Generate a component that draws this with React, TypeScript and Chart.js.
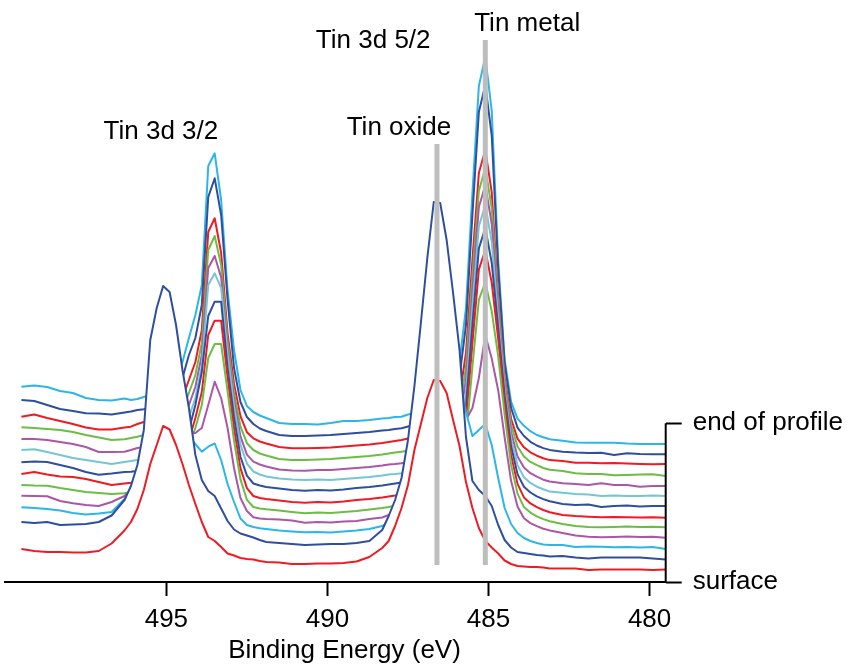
import React, { useEffect, useRef } from 'react';
import { Chart, registerables } from 'chart.js';

Chart.register(...registerables);

// Binding energies (eV) shared by all spectra
const energies = [
  499.5, 499.1, 498.7, 498.3, 497.9, 497.5, 497.1, 496.7, 496.3,
  496.1, 495.9, 495.7, 495.5, 495.3, 495.1, 494.9, 494.7, 494.5, 494.3, 494.1, 493.9, 493.7,
  493.5, 493.3, 493.1, 492.9, 492.7, 492.5, 492.3, 492.1, 491.9,
  491.5, 491.1, 490.7, 490.3, 489.9, 489.5, 489.1, 488.7, 488.3,
  488.1, 487.9, 487.7, 487.5, 487.3, 487.1, 486.9, 486.7, 486.5, 486.3, 486.1, 485.9, 485.7,
  485.5, 485.3, 485.1, 484.9, 484.7, 484.5, 484.3, 484.1, 483.9, 483.7, 483.5, 483.3, 483.1,
  482.7, 482.3, 481.9, 481.5, 481.1, 480.7, 480.3, 479.9, 479.5,
];

// Stacked intensities (arbitrary units), surface (s01) to end of profile (s13)
const s01 = [33, 31, 30, 30, 29.5, 29.5, 31, 38.5, 51.5,
  60, 73, 92, 118, 137, 156, 152.5, 137, 118, 97, 78, 60, 45, 41, 35, 28.5, 26.5, 24, 23, 22.5, 21, 20,
  19.5, 18, 18, 18.5, 18.5, 19, 20.5, 25, 34,
  41, 56, 74, 97, 132, 158, 184, 202, 201, 189, 162, 136, 100, 74, 54, 41, 34.5, 28.5, 21.5, 18, 16, 15.5, 15, 15, 14.5, 13.5,
  13.5, 13.5, 12, 12.5, 12.5, 12.5, 12.5, 12, 12.5];
const s02 = [60, 59, 60, 57, 57.5, 58, 60, 66.5, 82,
  96, 117, 152, 242, 274, 296, 290, 257, 212, 174, 127, 102, 91, 86, 73.5, 61, 52.5, 48.5, 46.5, 44.5, 42, 40,
  39, 38, 37, 37.5, 38, 38, 39, 41, 52,
  66, 82, 104, 142, 196, 259, 324, 380, 379, 342, 289, 232, 145, 101, 92, 86, 76, 57, 42, 34.5, 30, 29, 28, 27, 26.5, 25.5,
  26, 24.5, 23.5, 24.5, 24.5, 24.5, 24.5, 23.5, 22.5];
const s03 = [74.7, 74, 73, 71.5, 69, 67.5, 68.5, 70, 83,
  90, 97, 107, 117, 127, 134, 140, 144, 146, 145, 138, 130.3, 135.3, 138.5, 122, 98, 80, 63.5, 57, 55, 53.7, 53,
  51.5, 50.5, 49.7, 50, 49.5, 50.5, 51.5, 53, 56,
  60, 67, 77, 92, 112, 137, 162, 182, 192, 202, 207, 197, 170, 146, 152, 158, 137, 104, 74, 58, 49, 44, 41, 39, 37.5, 37,
  37, 35, 35.5, 35.3, 34.7, 35, 34.5, 35, 33];
const s04 = [86.3, 86, 85.7, 81, 78.7, 77, 76, 80, 86,
  92, 102, 112, 120, 127, 134, 139, 144, 147, 148, 149, 154, 177, 200.3, 184, 154, 114, 84, 71, 64.7, 63.5, 63,
  62.5, 61.5, 59.3, 60, 59.5, 60.5, 61, 63, 64.5,
  67, 70, 77, 87, 102, 117, 132, 142, 147, 150, 152, 154, 162, 174, 204, 247, 223.4, 191.8, 144.6, 101.2, 75.6, 63.8, 58.9, 55.9, 53.3, 51.6,
  49, 46.5, 45.3, 44.7, 45, 45.5, 45, 45.3, 44.3];
const s05 = [97, 96.5, 96.3, 94, 92, 90, 89, 88, 88.7,
  90, 92, 94, 96, 98, 100, 104, 110, 116, 137, 154, 177, 224, 238, 238, 190.6, 141.5, 102.6, 82.2, 75, 73.5, 72.7,
  71.5, 70, 68.7, 69.5, 69, 70, 71, 72.5, 74,
  75, 76.5, 79, 82, 86, 90, 94, 97, 100, 104, 108, 110.4, 143.9, 215.3, 282.2, 300, 270.6, 225.8, 167.5, 117.3, 88.4, 74.9, 69.4, 65.7, 62.9, 60.7,
  58, 56, 55, 54.7, 55, 55.5, 55, 55.3, 54.7];
const s06 = [108, 110, 107.5, 105.5, 105, 103, 100, 97, 98.5,
  99.3, 101, 102, 104, 106, 108, 112, 117, 124, 142, 164, 190, 247, 261.3, 261.3, 204.9, 153.9, 113.9, 93.9, 86, 84, 83,
  81.5, 80, 79.3, 80, 79.5, 80.5, 82, 83, 84.5,
  85.5, 86.5, 88, 90, 93, 97, 101, 105, 108, 112, 116, 123.7, 160.5, 238.9, 312.4, 332, 299.3, 243.3, 178.9, 127.1, 98.1, 84.6, 78.6, 74.9, 72, 69.8,
  67, 66, 65.3, 64.7, 65, 64.7, 64.5, 64.7, 64.3];
const s07 = [119.7, 120.5, 120, 117, 114, 110, 107.3, 108.5, 110,
  110.3, 111, 112, 113, 115, 117, 120, 125, 132, 152, 177, 210, 266, 280.3, 280.3, 214.2, 165, 125.3, 106.4, 98.5, 96.5, 95,
  93.5, 92, 91.3, 92, 91.5, 92.5, 94, 95, 96.5,
  97.5, 98.5, 99.5, 101, 104, 108, 112, 116, 120, 124, 129, 137.2, 175.5, 257.1, 333.6, 354, 319.1, 254.2, 186.3, 135.9, 107.9, 95.2, 89.5, 85.6, 82.9, 80.7,
  78, 77, 77.5, 75, 76, 76.5, 75.5, 76, 76];
const s08 = [132, 132.7, 130, 127, 124, 122, 120, 118, 120,
  121, 122, 124, 125, 127, 129, 132, 137, 145, 165, 184, 216, 297, 308.7, 294.2, 228.1, 176.4, 137.1, 118.5, 110.5, 107.5, 105.5,
  103.5, 102.5, 102, 102.5, 102, 103, 104, 105, 106.5,
  107.5, 108, 108.7, 110, 111.5, 113.5, 116.5, 119.5, 121.5, 122.5, 123.5, 149.2, 189.4, 275.2, 355.6, 377, 339.8, 264.4, 192.7, 143.4, 116.9, 104.8, 99.1, 95.3, 92.7, 90.4,
  89.3, 88, 87.5, 86, 86.5, 86, 86, 86.5, 86];
const s09 = [143, 143, 142, 140, 138, 135, 130, 130, 130.3,
  132, 134, 135, 136, 138, 141, 145, 151, 160, 177, 195, 227, 314, 326, 304.5, 233.7, 182.2, 145.7, 127.4, 120.3, 117.5, 115.5,
  112.5, 111.5, 111.3, 112, 112, 113, 114, 115, 116.5,
  117.5, 118, 118.7, 120, 121.5, 123.5, 126.5, 129.5, 131.5, 132.5, 133.5, 160.7, 202.4, 291.4, 374.8, 397, 358, 272.1, 197.3, 150, 125.5, 114.5, 108.8, 105.3, 102.3, 100.5,
  98.7, 98, 97, 98.7, 97, 97, 95.3, 96, 96];
const s10 = [154.7, 154, 153, 152, 150, 147, 144.5, 142, 142.7,
  144, 145.3, 147, 148, 150, 153, 157, 163, 172, 189, 207, 239, 332, 346, 316.9, 240.7, 189.2, 155.6, 138.8, 132, 128.5, 126.5,
  123, 122, 122, 122.5, 123, 124, 125, 126, 127.5,
  128.5, 129.5, 130.3, 131.5, 133, 135, 138, 141, 143, 144, 145, 172.6, 215, 306, 391, 414, 373.7, 278.6, 201.9, 157.4, 135.5, 125.5, 120.1, 116.8, 114, 112.2,
  111, 108.7, 108, 108, 106.7, 107, 107.5, 107.7, 106];
const s11 = [165.3, 167.5, 164, 161, 158, 154.5, 152.5, 152.5, 154.5,
  155.3, 158, 160, 161, 163, 166, 170, 176, 184, 202, 220, 252, 350, 363.7, 329.2, 248.7, 198.1, 165.9, 149.8, 143.7, 140.5, 138.5,
  135, 133.7, 133.7, 134, 134.5, 135.5, 136.5, 137.5, 139,
  140, 141, 142, 143.5, 145, 147, 150, 153, 155, 156, 157, 185.5, 229, 322, 409, 432, 389.7, 284.6, 205, 163.3, 143.4, 134.7, 129.7, 126.3, 123.8, 121.9,
  121, 119.3, 119.3, 118.7, 119, 118.5, 118, 117.7, 118];
const s12 = [182, 181, 177, 173, 171, 168.7, 168.5, 167.5, 169.5,
  170.5, 172, 172.7, 174, 177, 182, 187, 194, 204, 227, 244, 277, 385, 403.7, 367, 282, 214, 180, 165, 158, 153.5, 151,
  147, 146, 146, 146.5, 147, 148, 149, 150, 151.5,
  152, 153, 153.7, 155.5, 157, 159, 162, 165, 167, 168, 169, 205, 257, 367, 470, 497, 446.5, 313.3, 218.8, 174.2, 154.4, 146, 140.2, 136.5, 133.9, 132.1,
  130.3, 129.5, 129, 129.3, 127, 128.7, 128, 127.7, 127.7];
const s13 = [195.3, 196.5, 195, 191, 189, 184, 182, 181.5, 183.5,
  182, 183, 185, 187, 190, 194, 199, 207, 220, 244, 267, 297, 416, 428.7, 382, 292, 232, 192, 176, 170, 166.5, 164,
  159, 158, 158, 157.5, 159, 161, 161, 162, 163.5,
  164, 165, 165.3, 167.5, 169, 171, 174, 177, 179, 180, 181, 220, 274, 389, 496, 525, 471.4, 322, 222.4, 180.3, 163.4, 156.2, 150.8, 147, 144.7, 142.8,
  141.3, 139.5, 139.3, 139.3, 139.3, 138.5, 138, 138, 138];

const spectra = [s01, s02, s03, s04, s05, s06, s07, s08, s09, s10, s11, s12, s13];
const spectrumColors = [
  '#ed1c24', '#2e4e9e', '#2cb6e8', '#ab57a8', '#6cbd45', '#ed1c24', '#2e4e9e',
  '#74c6d3', '#ab57a8', '#6cbd45', '#ed1c24', '#2e4e9e', '#2cb6e8',
];

const xTicks = [495, 490, 485, 480];
const energyMin = 479.5;
const energyMax = 500;
const intensityMax = 582;

// Reference lines: Tin metal, Tin oxide
const markerEnergies = [485.1, 486.6];
const markerTops = [542, 438];
const markerBottom = 17;

const profileTicks = [0, 158.7];
const profileLabels = ['surface', 'end of profile'];

const peakLabels = ['Tin 3d 3/2', 'Tin oxide', 'Tin 3d 5/2', 'Tin metal'];
const peakLabelEnergies = [495.17, 487.78, 488.58, 483.8];
const peakLabelHeights = [443.5, 447, 534.5, 551.5];

const axisTitle = 'Binding Energy (eV)';
const axisTitleEnergy = 489.47;
const axisTitleHeight = -76;

const FONT = '"Liberation Sans", Arial, Helvetica, sans-serif';

const labelPlugin = {
  id: 'peakLabels',
  afterDraw(chart: any) {
    const { ctx } = chart;
    const x = chart.scales.x;
    const y = chart.scales.y;
    ctx.save();
    ctx.fillStyle = '#000';
    ctx.font = `26px ${FONT}`;
    ctx.textAlign = 'center';
    ctx.textBaseline = 'alphabetic';
    peakLabels.forEach((t, i) => {
      ctx.fillText(t, x.getPixelForValue(peakLabelEnergies[i]), y.getPixelForValue(peakLabelHeights[i]));
    });
    ctx.fillText(axisTitle, x.getPixelForValue(axisTitleEnergy), y.getPixelForValue(axisTitleHeight));
    ctx.restore();
  },
};

export default function App() {
  const canvasRef = useRef<HTMLCanvasElement | null>(null);

  useEffect(() => {
    if (!canvasRef.current) return;

    const markerSets = markerEnergies.map((e, i) => ({
      data: [{ x: e, y: markerBottom }, { x: e, y: markerTops[i] }],
      borderColor: '#bdbdbd',
      borderWidth: 5,
      borderCapStyle: 'butt',
      pointRadius: 0,
      fill: false,
      clip: false,
    }));

    const bracketSet = {
      data: profileTicks.map((v) => ({ x: energyMin, y: v })),
      borderColor: '#000',
      borderWidth: 2,
      pointRadius: 0,
      fill: false,
      clip: false,
    };

    const spectrumSets = spectra.map((s, i) => ({
      data: energies.map((e, j) => ({ x: e, y: s[j] })),
      borderColor: spectrumColors[i],
      backgroundColor: '#ffffff',
      fill: { value: 5 },
      borderWidth: 2,
      pointRadius: 0,
      tension: 0,
      borderJoinStyle: 'round',
    }));

    const chart = new Chart(canvasRef.current, {
      type: 'line',
      data: { datasets: [...markerSets, bracketSet, ...spectrumSets] as any },
      options: {
        animation: false,
        responsive: false,
        events: [],
        layout: { padding: { left: 5.3, top: 0, right: 0, bottom: 0 } },
        plugins: { legend: { display: false }, tooltip: { enabled: false } },
        scales: {
          x: {
            type: 'linear',
            reverse: true,
            min: energyMin,
            max: energyMax,
            afterBuildTicks: (s: any) => {
              s.ticks = xTicks.map((v) => ({ value: v }));
            },
            afterFit: (s: any) => {
              s.height = 85;
              s.paddingLeft = 0;
              s.paddingRight = 0;
            },
            grid: {
              drawOnChartArea: false,
              drawTicks: true,
              tickLength: 14,
              tickColor: '#000',
              tickWidth: 2,
            },
            border: { display: true, color: '#000', width: 2 },
            ticks: {
              color: '#000',
              font: { family: FONT, size: 26 },
              padding: 8,
              maxRotation: 0,
              autoSkip: false,
            },
          },
          y: { display: false, min: 0, max: intensityMax },
          y2: {
            position: 'right',
            min: 0,
            max: intensityMax,
            afterBuildTicks: (s: any) => {
              s.ticks = profileTicks.map((v) => ({ value: v }));
            },
            afterFit: (s: any) => {
              s.width = 182.3;
              s.paddingTop = 0;
              s.paddingBottom = 0;
            },
            grid: {
              drawOnChartArea: false,
              drawTicks: true,
              tickLength: 16,
              tickColor: '#000',
              tickWidth: 2,
            },
            border: { display: false },
            ticks: {
              color: '#000',
              font: { family: FONT, size: 26 },
              padding: 11,
              autoSkip: false,
              callback: (_v: any, i: number) => profileLabels[i],
            },
          },
        },
      } as any,
      plugins: [labelPlugin],
    });

    return () => chart.destroy();
  }, []);

  return (
    <div style={{ position: 'fixed', left: 0, top: 0, width: 848, height: 667, background: '#fff' }}>
      <canvas ref={canvasRef} width={848} height={667} style={{ display: 'block' }} />
    </div>
  );
}
